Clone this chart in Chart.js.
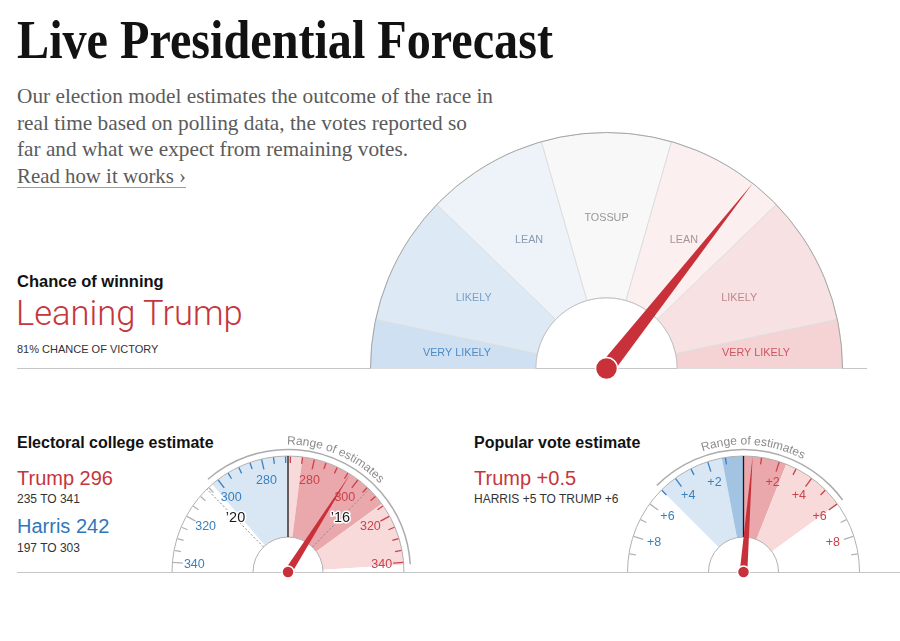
<!DOCTYPE html>
<html>
<head>
<meta charset="utf-8">
<title>Live Presidential Forecast</title>
<script src="https://cdn.jsdelivr.net/npm/chart.js@4.4.1/dist/chart.umd.min.js"></script>
<style>
  html, body { margin:0; padding:0; background:#fff; }
  body { width:900px; height:641px; position:relative; overflow:hidden; font-family:"Liberation Sans", Arial, sans-serif; color:#121212; }
  .t { position:absolute; white-space:nowrap; line-height:1; transform-origin:0 0; }
  .sub { font-family:"Liberation Serif", serif; font-size:21px; color:#5b5b5b; }
  .hd { font-weight:bold; font-size:16px; color:#121212; }
  .small { font-size:12px; color:#333; }
  .hr { position:absolute; height:1px; background:#c6c6c6; }
  canvas { position:absolute; }
</style>
</head>
<body>
<div class="t" id="title" style="left:17px; top:12px; font-family:'Liberation Serif',serif; font-weight:bold; font-size:55px; color:#121212;">Live Presidential Forecast</div>
<div class="t sub" id="s1" style="left:17px; top:86px;">Our election model estimates the outcome of the race in</div>
<div class="t sub" id="s2" style="left:17px; top:113px;">real time based on polling data, the votes reported so</div>
<div class="t sub" id="s3" style="left:17px; top:139px;">far and what we expect from remaining votes.</div>
<div class="t sub" id="s4" style="left:17px; top:166px; text-decoration:underline; text-decoration-color:#9a9a9a; text-decoration-thickness:1px; text-underline-offset:4px;">Read how it works ›</div>

<div class="t hd" style="left:17px; top:273px; font-size:16.5px;">Chance of winning</div>
<div class="t" style="left:16px; top:296px; font-family:Roboto, sans-serif; font-weight:300; font-size:34.5px; color:#c5363d;">Leaning Trump</div>
<div class="t" style="left:17px; top:344px; font-size:11px; color:#333;">81% CHANCE OF VICTORY</div>

<div class="t hd" style="left:17px; top:435px;">Electoral college estimate</div>
<div class="t" style="left:17px; top:468px; font-size:20px; color:#c5363d;">Trump 296</div>
<div class="t small" style="left:17px; top:493px;">235 TO 341</div>
<div class="t" style="left:17px; top:516px; font-size:20px; color:#2f78b6;">Harris 242</div>
<div class="t small" style="left:17px; top:542px;">197 TO 303</div>

<div class="t hd" style="left:474px; top:435px;">Popular vote estimate</div>
<div class="t" style="left:474px; top:468px; font-size:20px; color:#c5363d;">Trump +0.5</div>
<div class="t small" style="left:474px; top:493px;">HARRIS +5 TO TRUMP +6</div>

<div class="hr" style="left:17px; top:368px; width:850px;"></div>
<div class="hr" style="left:17px; top:572px; width:883px;"></div>

<canvas id="mainGauge" width="510" height="262" style="left:360px; top:125px;"></canvas>
<canvas id="ecGauge" width="290" height="165" style="left:150px; top:420px;"></canvas>
<canvas id="pvGauge" width="290" height="165" style="left:600px; top:420px;"></canvas>

<script>
// ================= DATA =================
// Chance of winning gauge (segment spans on a 0–180 gauge scale)
const mainLabels = ['VERY LIKELY', 'LIKELY', 'LEAN', 'TOSSUP', 'LEAN', 'LIKELY', 'VERY LIKELY'];
const mainSpans = [12, 32, 30, 32, 30, 32, 12];
const mainNeedle = 128.3;          // needle position on the 0–180 gauge scale
const chanceOfVictory = 81;        // Trump, %

// Electoral college (axis in Trump electoral votes)
const ecMin = 194, ecMax = 344, ecTie = 269, ecTotal = 538;
const ecTrump = 296, ecHarris = 242;
const ecRange = [235, 341];        // Trump range (Harris 197–303)
const ecCore = [275, 314];         // darker central band
const ecPastLabels = ['\u201920', '\u201916'];
const ecPastValues = [232, 306];
const ecTickLabels = [280, 300, 320, 340];
const ecTickStep = 5;

// Popular vote (axis in Trump margin, points)
const pvMin = -10, pvMax = 10, pvTie = 0;
const pvTrumpMargin = 0.5;
const pvRange = [-5, 6];
const pvCore = [-1.2, 2.4];
const pvTickLabels = [2, 4, 6, 8];
const pvTickStep = 1;

// ================= STYLE =================
const mainColors = ['#cfe0f2', '#dde9f5', '#eef3fa', '#f8f8f8', '#fcefef', '#f8e1e2', '#f5d2d3'];
const mainLabelColors = ['#4f8bc5', '#79a1ca', '#8a9bb0', '#979797', '#a99394', '#c0868b', '#cc5660'];
const bandColors = { none: '#ffffff', lightBlue: '#d9e7f4', darkBlue: '#a2c4e2', lightRed: '#f8dadb', darkRed: '#eaa8ac' };
const BLUE = '#3a80bd', RED = '#c8434b', NEEDLE = '#c9313a', GRAY_TICK = '#b3b3b3';

// ================= HELPERS =================
function fitWidth(id, target) {
  const el = document.getElementById(id);
  const w = el.getBoundingClientRect().width;
  el.style.transform = 'scaleX(' + (target / w) + ')';
}
fitWidth('title', 536);
fitWidth('s1', 476);
fitWidth('s2', 450);
fitWidth('s3', 391);
fitWidth('s4', 169);

const toAngle = (v, min, max) => Math.PI + (v - min) / (max - min) * Math.PI;
const sum = a => a.reduce((s, x) => s + x, 0);

function geom(chart) {
  const el = chart.getDatasetMeta(0).data[0];
  return { cx: el.x, cy: el.y, R: el.outerRadius, r0: el.innerRadius };
}

function bands(min, max, tie, range, core) {
  const pts = [...new Set([min, max, tie, range[0], range[1], core[0], core[1]])].sort((a, b) => a - b);
  const spans = [], cols = [];
  for (let i = 0; i < pts.length - 1; i++) {
    const a = pts[i], b = pts[i + 1], m = (a + b) / 2;
    spans.push(b - a);
    let c;
    if (m < range[0] || m > range[1]) c = bandColors.none;
    else if (m >= core[0] && m <= core[1]) c = m < tie ? bandColors.darkBlue : bandColors.darkRed;
    else c = m < tie ? bandColors.lightBlue : bandColors.lightRed;
    cols.push(c);
  }
  return { spans, cols };
}

function drawNeedle(ctx, cx, cy, a, len, hw, rc) {
  const tx = cx + len * Math.cos(a), ty = cy + len * Math.sin(a);
  const px = -Math.sin(a) * hw, py = Math.cos(a) * hw;
  ctx.fillStyle = NEEDLE;
  ctx.beginPath();
  ctx.moveTo(cx + px, cy + py); ctx.lineTo(tx, ty); ctx.lineTo(cx - px, cy - py);
  ctx.closePath(); ctx.fill();
  ctx.beginPath(); ctx.arc(cx, cy, rc, 0, 2 * Math.PI); ctx.fill();
  ctx.strokeStyle = '#ffffff'; ctx.lineWidth = 1.5; ctx.stroke();
}

function arcText(ctx, text, cx, cy, r, centerAngle) {
  const total = ctx.measureText(text).width;
  let a = centerAngle - total / 2 / r;
  ctx.textAlign = 'center'; ctx.textBaseline = 'alphabetic';
  for (const ch of text) {
    const w = ctx.measureText(ch).width;
    const mid = a + w / 2 / r;
    ctx.save();
    ctx.translate(cx + r * Math.cos(mid), cy + r * Math.sin(mid));
    ctx.rotate(mid + Math.PI / 2);
    ctx.fillText(ch, 0, 0);
    ctx.restore();
    a += w / r;
  }
}

function makeGauge(id, spans, colors, borderW, borderC, cutoutPct, pad, overlay) {
  return new Chart(document.getElementById(id), {
    type: 'doughnut',
    data: {
      labels: spans.map((_, i) => 'segment ' + (i + 1)),
      datasets: [{ data: spans, backgroundColor: colors, borderWidth: borderW, borderColor: borderC, hoverOffset: 0 }]
    },
    options: {
      responsive: false, maintainAspectRatio: false, animation: false, events: [],
      rotation: -90, circumference: 180, cutout: cutoutPct + '%',
      layout: { padding: pad },
      plugins: { legend: { display: false }, tooltip: { enabled: false } }
    },
    plugins: [{ id: id + 'Overlay', afterDatasetsDraw(chart) { overlay(chart); } }]
  });
}

// ================= MAIN GAUGE =================
makeGauge('mainGauge', mainSpans, mainColors, 1, '#dedede', 71 / 237 * 100,
  { left: 9.5, top: 7, right: 26.5, bottom: 18 },
  function (chart) {
    const ctx = chart.ctx, g = geom(chart), total = sum(mainSpans);
    ctx.save();
    ctx.lineWidth = 1;
    ctx.strokeStyle = '#a6a6a6';
    ctx.beginPath(); ctx.arc(g.cx, g.cy, g.R, Math.PI, 2 * Math.PI); ctx.stroke();
    ctx.strokeStyle = '#c2c2c2';
    ctx.beginPath(); ctx.arc(g.cx, g.cy, g.r0, Math.PI, 2 * Math.PI); ctx.stroke();
    ctx.font = '10.8px "Liberation Sans", Arial, sans-serif';
    ctx.textAlign = 'center'; ctx.textBaseline = 'middle';
    let acc = 0;
    mainSpans.forEach((s, i) => {
      const a = toAngle(acc + s / 2, 0, total); acc += s;
      const r = (g.R + g.r0) / 2 - 3;
      ctx.fillStyle = mainLabelColors[i];
      ctx.fillText(mainLabels[i], g.cx + r * Math.cos(a), g.cy + r * Math.sin(a));
    });
    drawNeedle(ctx, g.cx, g.cy, toAngle(mainNeedle, 0, total), g.R, 7.5, 11);
    ctx.restore();
  });

// ================= SMALL GAUGES =================
function smallOverlay(cfg) {
  return function (chart) {
    const ctx = chart.ctx, g = geom(chart);
    const ang = v => toAngle(v, cfg.min, cfg.max);
    const pt = (v, r) => { const a = ang(v); return [g.cx + r * Math.cos(a), g.cy + r * Math.sin(a)]; };
    const inRange = v => v >= cfg.range[0] && v <= cfg.range[1];
    ctx.save();
    // edges
    ctx.lineWidth = 1; ctx.strokeStyle = '#b0b0b0';
    ctx.beginPath(); ctx.arc(g.cx, g.cy, g.R, Math.PI, 2 * Math.PI); ctx.stroke();
    ctx.beginPath(); ctx.arc(g.cx, g.cy, g.r0, Math.PI, 2 * Math.PI); ctx.stroke();
    // ticks
    cfg.ticks.forEach(t => {
      const len = t.major ? 10 : 6.5;
      const [x1, y1] = pt(t.v, g.R - 0.5), [x2, y2] = pt(t.v, g.R - 0.5 - len);
      ctx.strokeStyle = inRange(t.v) ? (t.v < cfg.tie ? BLUE : RED) : GRAY_TICK;
      ctx.lineWidth = 1.3;
      ctx.beginPath(); ctx.moveTo(x1, y1); ctx.lineTo(x2, y2); ctx.stroke();
    });
    // range bracket
    ctx.strokeStyle = '#acacac'; ctx.lineWidth = 1.5;
    ctx.beginPath(); ctx.arc(g.cx, g.cy, g.R + 6.5, ang(cfg.range[0]), ang(cfg.range[1])); ctx.stroke();
    ctx.fillStyle = '#8c8c8c';
    ctx.font = '12px "Liberation Sans", Arial, sans-serif';
    arcText(ctx, 'Range of estimates', g.cx, g.cy, g.R + 11.5, ang((cfg.range[0] + cfg.range[1]) / 2));
    // tick labels
    ctx.font = '12.5px "Liberation Sans", Arial, sans-serif';
    ctx.textAlign = 'center'; ctx.textBaseline = 'middle';
    cfg.labels.forEach(l => {
      const [x, y] = pt(l.v, 94);
      ctx.fillStyle = l.v < cfg.tie ? BLUE : RED;
      ctx.fillText(l.text, x, y);
    });
    // past results
    (cfg.past || []).forEach(p => {
      const [x1, y1] = pt(p.v, g.r0), [x2, y2] = pt(p.v, g.R);
      ctx.save();
      ctx.setLineDash([2, 2]); ctx.strokeStyle = '#8a8a8a'; ctx.lineWidth = 1;
      ctx.beginPath(); ctx.moveTo(x1, y1); ctx.lineTo(x2, y2); ctx.stroke();
      ctx.restore();
      const [x, y] = pt(p.v, 75);
      ctx.font = '14.5px "Liberation Sans", Arial, sans-serif';
      ctx.textAlign = 'center'; ctx.textBaseline = 'middle';
      ctx.lineWidth = 3; ctx.lineJoin = 'round'; ctx.strokeStyle = '#ffffff';
      ctx.strokeText(p.text, x, y);
      ctx.fillStyle = '#1a1a1a'; ctx.fillText(p.text, x, y);
    });
    // tie line
    const [tx1, ty1] = pt(cfg.tie, g.r0), [tx2, ty2] = pt(cfg.tie, g.R);
    ctx.strokeStyle = '#1a1a1a'; ctx.lineWidth = 1.3;
    ctx.beginPath(); ctx.moveTo(tx1, ty1); ctx.lineTo(tx2, ty2); ctx.stroke();
    // needle
    drawNeedle(ctx, g.cx, g.cy, ang(cfg.estimate), g.R, 3.8, 6);
    ctx.restore();
  };
}

// Electoral college gauge
const ecBands = bands(ecMin, ecMax, ecTie, ecRange, ecCore);
const ecTicks = [], ecLabels = [];
for (let ev = 270; ev <= 340; ev += ecTickStep) {
  const major = ecTickLabels.includes(ev);
  ecTicks.push({ v: ev, major }, { v: ecTotal - ev, major });
}
ecTickLabels.forEach(ev => ecLabels.push({ v: ev, text: String(ev) }, { v: ecTotal - ev, text: String(ev) }));
makeGauge('ecGauge', ecBands.spans, ecBands.cols, 0, '#fff', 35 / 116 * 100,
  { left: 22, top: 36, right: 36, bottom: 13 },
  smallOverlay({
    min: ecMin, max: ecMax, tie: ecTie, range: ecRange, estimate: ecTrump,
    ticks: ecTicks, labels: ecLabels,
    past: ecPastValues.map((v, i) => ({ v, text: ecPastLabels[i] }))
  }));

// Popular vote gauge
const pvBands = bands(pvMin, pvMax, pvTie, pvRange, pvCore);
const pvTicks = [], pvLabels = [];
for (let m = 1; m <= 9; m += pvTickStep) {
  const major = pvTickLabels.includes(m);
  pvTicks.push({ v: m, major }, { v: -m, major });
}
pvTickLabels.forEach(m => pvLabels.push({ v: m, text: '+' + m }, { v: -m, text: '+' + m }));
makeGauge('pvGauge', pvBands.spans, pvBands.cols, 0, '#fff', 35 / 116 * 100,
  { left: 27.5, top: 36, right: 30.5, bottom: 13 },
  smallOverlay({
    min: pvMin, max: pvMax, tie: pvTie, range: pvRange, estimate: pvTrumpMargin,
    ticks: pvTicks, labels: pvLabels
  }));
</script>
</body>
</html>
